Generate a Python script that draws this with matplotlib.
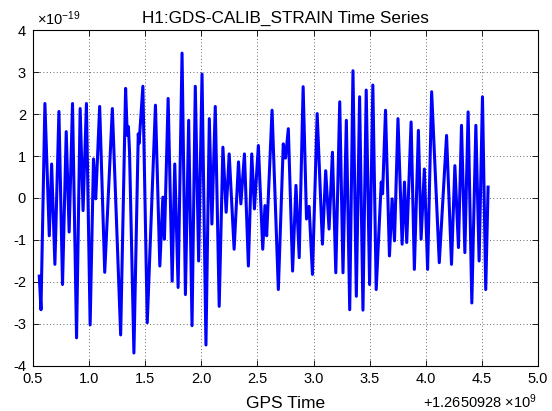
import matplotlib
matplotlib.use("Agg")
import matplotlib.pyplot as plt

plt.rcParams['font.family'] = ['Liberation Sans', 'DejaVu Sans']
plt.rcParams['axes.unicode_minus'] = False
plt.rcParams['mathtext.fontset'] = 'custom'
plt.rcParams['mathtext.rm'] = 'Liberation Sans'
plt.rcParams['mathtext.it'] = 'Liberation Sans:italic'

# seconds after GPS 1265092800 (offset shown as +1.2650928x10^9)
t = [0.556, 0.571, 0.606, 0.645, 0.666, 0.695, 0.731, 0.763, 0.796, 0.822,
     0.852, 0.888, 0.920, 0.946, 0.976, 1.009, 1.039, 1.059, 1.094, 1.139,
     1.207, 1.281, 1.325, 1.340, 1.350, 1.360, 1.399, 1.438, 1.445, 1.479,
     1.518, 1.591, 1.630, 1.657, 1.671, 1.704, 1.740, 1.763, 1.793, 1.828,
     1.858, 1.887, 1.917, 1.946, 1.976, 2.006, 2.041, 2.071, 2.094, 2.124,
     2.159, 2.192, 2.221, 2.248, 2.292, 2.331, 2.352, 2.384, 2.419, 2.449,
     2.473, 2.508, 2.547, 2.567, 2.582, 2.630, 2.686, 2.730, 2.750, 2.775,
     2.813, 2.843, 2.872, 2.907, 2.937, 2.960, 2.990, 3.032, 3.079, 3.108,
     3.138, 3.168, 3.198, 3.233, 3.262, 3.292, 3.322, 3.351, 3.381, 3.410,
     3.440, 3.469, 3.499, 3.528, 3.558, 3.603, 3.615, 3.641, 3.676, 3.700,
     3.721, 3.752, 3.789, 3.810, 3.830, 3.869, 3.898, 3.934, 3.958, 3.987,
     4.016, 4.052, 4.120, 4.185, 4.229, 4.259, 4.291, 4.318, 4.348, 4.377,
     4.410, 4.446, 4.475, 4.505, 4.534, 4.555]

# strain in units of 1e-19
h = [-1.86, -2.66, 2.25, -0.90, 0.81, -1.58, 2.06, -2.06, 1.58, -0.81,
     2.25, -3.33, 2.13, -0.30, 2.25, -3.02, 0.93, -0.02, 2.18, -1.77,
     2.13, -3.26, 2.61, 1.49, 1.70, 1.10, -3.69, 1.53, 1.30, 2.66,
     -2.97, 2.21, -1.62, 0.02, -0.98, 2.37, -1.98, 0.81, -2.13, 3.45,
     -2.30, 1.85, -3.04, 2.66, -1.50, 2.95, -3.50, 1.89, -0.62, 2.18,
     -2.58, 1.21, -0.34, 1.05, -1.22, 0.86, -0.14, 1.05, -1.62, 1.05,
     -0.26, 1.25, -1.22, -0.18, -0.90, 2.09, -2.18, 1.29, 0.95, 1.65,
     -1.74, 0.30, -1.42, 2.65, -0.50, -0.20, -1.82, 2.01, -1.10, 0.65,
     -0.74, 1.09, -1.78, 2.29, -1.78, 1.85, -2.66, 3.03, -2.34, 2.41,
     -2.67, 2.57, -2.06, 2.69, -2.18, 0.38, 0.10, 2.09, -1.38, -0.02,
     -1.02, 1.89, -1.10, 0.38, -1.06, 1.81, -1.70, 1.61, -0.98, 0.69,
     -1.70, 2.53, -1.54, 1.49, -1.58, 0.77, -1.18, 1.73, -1.30, 2.05,
     -2.50, 1.73, -1.50, 2.41, -2.18, 0.26]

xticks = [0.5, 1.0, 1.5, 2.0, 2.5, 3.0, 3.5, 4.0, 4.5, 5.0]
yticks = [-4, -3, -2, -1, 0, 1, 2, 3, 4]

fig = plt.figure(figsize=(5.52, 4.11), dpi=100)
ax = fig.add_axes([0.0598, 0.1095, 0.9149, 0.8175])

ax.plot(t, h, color='#0000ff', linewidth=2.2, solid_joinstyle='round')

ax.set_xlim(0.5, 5.0)
ax.set_ylim(-4, 4)
ax.set_xticks(xticks)
ax.set_xticklabels([f"{v:.1f}" for v in xticks])
ax.set_yticks(yticks)
ax.set_yticklabels([str(v) for v in yticks])
ax.tick_params(direction='in', top=True, right=True, length=4, width=0.6,
               labelsize=10.5)
ax.tick_params(axis='x', pad=4)
ax.tick_params(axis='y', pad=5)
ax.grid(True, color='black', linestyle=(0, (1, 3)), linewidth=0.6, alpha=0.8)
for s in ax.spines.values():
    s.set_linewidth(0.8)

ax.set_title("H1:GDS-CALIB_STRAIN Time Series", fontsize=12.3, pad=5)
ax.set_xlabel("GPS Time", fontsize=12.5)
ax.xaxis.set_label_coords(0.5, -0.125)
ax.xaxis.label.set_verticalalignment('baseline')
ax.text(0.007, 1.015, r"$\times10^{-19}$", transform=ax.transAxes,
        fontsize=10.5, ha='left', va='baseline')
ax.text(0.998, -0.125, r"+1.2650928 $\times10^{9}$", transform=ax.transAxes,
        fontsize=10.5, ha='right', va='baseline')

fig.savefig("out.png", dpi=100)
